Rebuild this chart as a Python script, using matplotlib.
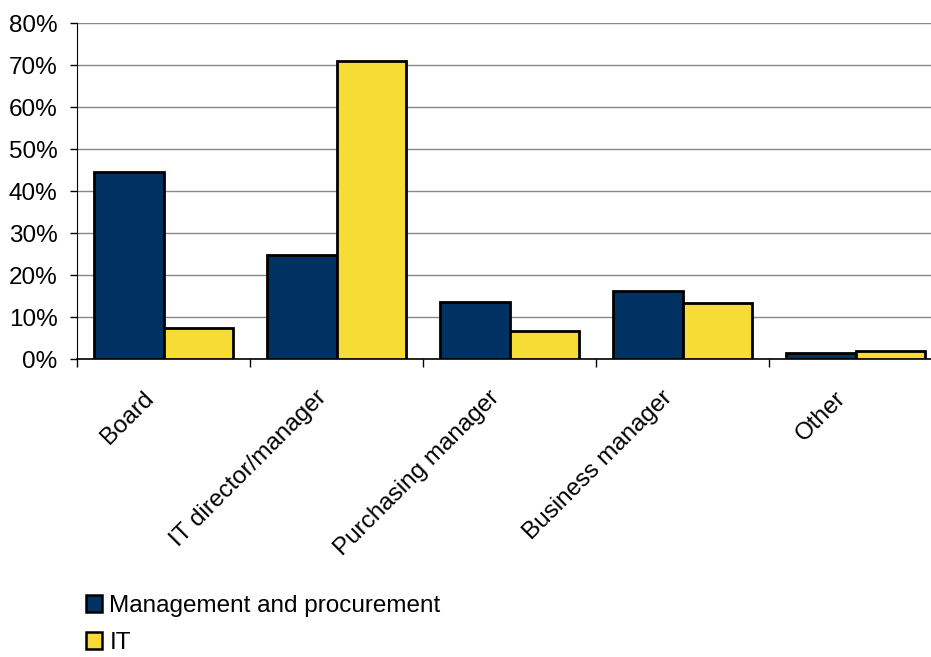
import matplotlib
matplotlib.use("Agg")
import matplotlib.pyplot as plt
from matplotlib.patches import Patch
from matplotlib.transforms import ScaledTranslation
import numpy as np

categories = ["Board", "IT director/manager", "Purchasing manager", "Business manager", "Other"]
mgmt = [44.5, 24.8, 13.6, 16.2, 1.4]
it = [7.4, 71.0, 6.7, 13.3, 1.9]
series_names = ["Management and procurement", "IT"]
colors = ["#003163", "#F7DC35"]

plt.rcParams['font.family'] = ['Liberation Sans', 'DejaVu Sans']
fs = 17.5

fig = plt.figure(figsize=(9.31, 6.57), dpi=100)
ax = fig.add_axes([77/931, 1-359/657, 865/931, 336/657])

x = np.arange(len(categories))
w = 0.4
ax.bar(x - w/2, mgmt, w, color=colors[0], edgecolor='black', linewidth=2, zorder=3)
ax.bar(x + w/2, it, w, color=colors[1], edgecolor='black', linewidth=2, zorder=3)

ax.set_xlim(-0.5, len(categories) - 0.5)
ax.set_ylim(0, 80)
ax.set_yticks(np.arange(0, 81, 10))
ax.set_yticklabels([f"{v}%" for v in range(0, 81, 10)], fontsize=fs)
ax.yaxis.grid(True, color='#888888', linewidth=1, zorder=0)

ax.set_xticks(x)
ax.set_xticklabels(categories, rotation=45, ha='right', rotation_mode='anchor', fontsize=fs)
ax.tick_params(axis='x', which='major', length=0, pad=10)
ax.set_xticks(np.arange(-0.5, len(categories)), minor=True)
ax.tick_params(axis='x', which='minor', length=6, color='black', width=1)
ax.tick_params(axis='y', length=5, width=1, color='black', pad=9)

offset = ScaledTranslation(-21/100, -14/100, fig.dpi_scale_trans)
for lbl in ax.get_xticklabels():
    lbl.set_transform(lbl.get_transform() + offset)

for s in ['top', 'right']:
    ax.spines[s].set_visible(False)
ax.spines['left'].set_color('black')
ax.spines['bottom'].set_color('black')
ax.spines['bottom'].set_linewidth(1.2)

handles = [Patch(facecolor=colors[0], edgecolor='black', linewidth=1.8),
           Patch(facecolor=colors[1], edgecolor='black', linewidth=1.8)]
fig.legend(handles, series_names, loc='upper left', bbox_to_anchor=(86/931, 1-595/657),
           frameon=False, fontsize=fs, handlelength=0.66, handleheight=0.66,
           handletextpad=0.3, labelspacing=0.62, borderaxespad=0, borderpad=0)

fig.savefig("out.png", dpi=100)
